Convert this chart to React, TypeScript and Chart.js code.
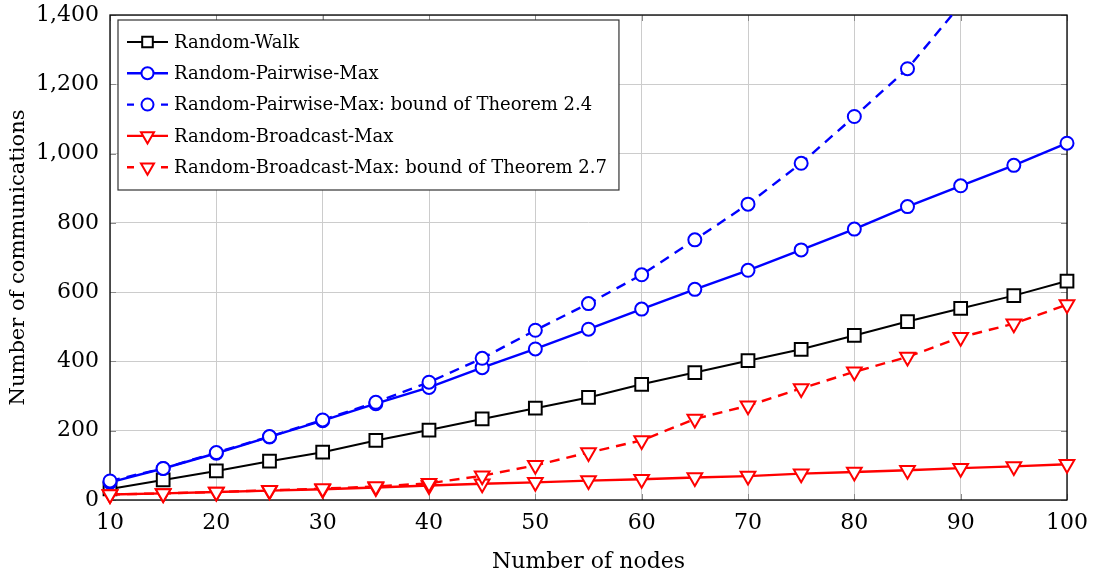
import React, { useEffect, useRef } from "react";
import { Chart, registerables } from "chart.js";
Chart.register(...registerables);

const nodes = [10, 15, 20, 25, 30, 35, 40, 45, 50, 55, 60, 65, 70, 75, 80, 85, 90, 95, 100];
const randomWalk = [32, 58, 84, 112, 138, 172, 202, 234, 265, 296, 334, 368, 402, 435, 475, 515, 553, 590, 632];
const pairwiseMax = [51, 91, 135, 182, 229, 278, 325, 382, 436, 493, 551, 608, 663, 722, 782, 847, 907, 966, 1030];
const pairwiseBound = [55, 91, 137, 183, 231, 282, 340, 409, 490, 567, 650, 751, 854, 972, 1107, 1245, 1430, 1600, 1780];
const broadcastMax = [16, 19, 23, 27, 31, 36, 42, 47, 51, 56, 60, 65, 69, 76, 81, 86, 92, 97, 103];
const broadcastBound = [16, 19, 23, 28, 33, 39, 48, 70, 100, 137, 172, 234, 272, 322, 370, 413, 470, 509, 564];

const seriesLabels = [
  "Random-Walk",
  "Random-Pairwise-Max",
  "Random-Pairwise-Max: bound of Theorem 2.4",
  "Random-Broadcast-Max",
  "Random-Broadcast-Max: bound of Theorem 2.7",
];
const yTickStep = 200;
const xTickStep = 10;

const FONT = "'DejaVu Serif', serif";
const DASH = [10, 7];

function fmt(v: number): string {
  const s = String(Math.round(v));
  return s.replace(/\B(?=(\d{3})+(?!\d))/g, ",");
}

function drawMarker(ctx: CanvasRenderingContext2D, style: string, x: number, y: number, r: number, color: string) {
  ctx.save();
  ctx.setLineDash([]);
  ctx.fillStyle = "#fff";
  ctx.strokeStyle = color;
  ctx.lineWidth = 2;
  ctx.beginPath();
  if (style === "rect") {
    const s = Math.SQRT1_2 * r;
    ctx.rect(x - s, y - s, 2 * s, 2 * s);
  } else if (style === "circle") {
    ctx.arc(x, y, r, 0, Math.PI * 2);
  } else {
    const c = Math.cos(Math.PI / 6) * r;
    ctx.moveTo(x, y + r);
    ctx.lineTo(x - c, y - r / 2);
    ctx.lineTo(x + c, y - r / 2);
    ctx.closePath();
  }
  ctx.fill();
  ctx.stroke();
  ctx.restore();
}

export default function App() {
  const ref = useRef<HTMLCanvasElement>(null);
  useEffect(() => {
    document.body.style.margin = "0";
    const canvas = ref.current!;

    const framePlugin = {
      id: "frame",
      beforeDatasetsDraw(chart: any) {
        const { ctx, chartArea: a, scales } = chart;
        ctx.save();
        ctx.strokeStyle = "#8a8a8a";
        ctx.lineWidth = 1;
        const L = 6;
        scales.x.ticks.forEach((t: any) => {
          const px = Math.round(scales.x.getPixelForValue(t.value)) + 0.5;
          ctx.beginPath();
          ctx.moveTo(px, a.bottom);
          ctx.lineTo(px, a.bottom - L);
          ctx.moveTo(px, a.top);
          ctx.lineTo(px, a.top + L);
          ctx.stroke();
        });
        scales.y.ticks.forEach((t: any) => {
          const py = Math.round(scales.y.getPixelForValue(t.value)) + 0.5;
          ctx.beginPath();
          ctx.moveTo(a.left, py);
          ctx.lineTo(a.left + L, py);
          ctx.moveTo(a.right, py);
          ctx.lineTo(a.right - L, py);
          ctx.stroke();
        });
        ctx.strokeStyle = "#000";
        ctx.lineWidth = 1.3;
        ctx.strokeRect(a.left, a.top, a.right - a.left, a.bottom - a.top);
        ctx.restore();
      },
    };

    const legendPlugin = {
      id: "boxLegend",
      afterDraw(chart: any) {
        const { ctx, chartArea: a } = chart;
        const ds = chart.data.datasets;
        ctx.save();
        ctx.font = `18px ${FONT}`;
        let maxW = 0;
        ds.forEach((d: any) => (maxW = Math.max(maxW, ctx.measureText(d.label).width)));
        const left = a.left + 8;
        const top = a.top + 5;
        const rowH = 31.3;
        const textX = left + 56;
        const right = textX + maxW + 12;
        const bottom = top + 170;
        ctx.fillStyle = "#fff";
        ctx.fillRect(left, top, right - left, bottom - top);
        ctx.strokeStyle = "#333";
        ctx.lineWidth = 1.2;
        ctx.strokeRect(left, top, right - left, bottom - top);
        ds.forEach((d: any, i: number) => {
          const y = top + 22 + i * rowH;
          const x0 = left + 9;
          const x1 = left + 50;
          const xm = (x0 + x1) / 2;
          ctx.save();
          ctx.strokeStyle = d.borderColor;
          ctx.lineWidth = d.borderWidth;
          ctx.beginPath();
          if (d.borderDash && d.borderDash.length) {
            ctx.moveTo(x0, y);
            ctx.lineTo(x0 + 7, y);
            ctx.moveTo(x1 - 7, y);
            ctx.lineTo(x1, y);
          } else {
            ctx.moveTo(x0, y);
            ctx.lineTo(x1, y);
          }
          ctx.stroke();
          ctx.restore();
          drawMarker(ctx, d.pointStyle, xm, y, d.pointStyle === "rect" ? 7.5 : d.pointStyle === "circle" ? 6 : 7.5, d.borderColor);
          ctx.fillStyle = "#000";
          ctx.textBaseline = "middle";
          ctx.textAlign = "left";
          ctx.fillText(d.label, textX, y + 1);
        });
        ctx.restore();
      },
    };

    const mk = (label: string, data: number[], color: string, style: string, dashed: boolean, radius: number, width: number, i: number, clip: any) => ({
      label,
      data: nodes.map((x, k) => ({ x, y: data[k] })),
      borderColor: color,
      backgroundColor: "#fff",
      borderWidth: width,
      borderDash: dashed ? DASH : [],
      pointStyle: style,
      pointRotation: style === "triangle" ? 180 : 0,
      pointRadius: radius,
      pointBorderWidth: 2,
      pointBackgroundColor: "#fff",
      pointBorderColor: color,
      tension: 0,
      fill: false,
      clip,
      order: 10 - i,
    });

    const chart = new Chart(canvas, {
      type: "line",
      data: {
        datasets: [
          mk(seriesLabels[0], randomWalk, "#000000", "rect", false, 9, 2, 0, false),
          mk(seriesLabels[1], pairwiseMax, "#0000ff", "circle", false, 6.5, 2.4, 1, false),
          mk(seriesLabels[2], pairwiseBound, "#0000ff", "circle", true, 6.5, 2.4, 2, { left: 20, right: 20, top: 0, bottom: 20 }),
          mk(seriesLabels[3], broadcastMax, "#ff0000", "triangle", false, 8.5, 2.4, 3, false),
          mk(seriesLabels[4], broadcastBound, "#ff0000", "triangle", true, 8.5, 2.4, 4, false),
        ] as any,
      },
      options: {
        animation: false,
        responsive: false,
        maintainAspectRatio: false,
        layout: { padding: { top: 15, right: 26, left: 0, bottom: 0 } },
        plugins: { legend: { display: false }, tooltip: { enabled: false } },
        scales: {
          x: {
            type: "linear",
            min: 10,
            max: 100,
            ticks: {
              stepSize: xTickStep,
              color: "#000",
              font: { family: FONT, size: 22 },
              padding: 10,
              maxRotation: 0,
            },
            grid: { color: "#cccccc", drawTicks: false },
            border: { display: false },
            title: {
              display: true,
              text: "Number of nodes",
              color: "#000",
              font: { family: FONT, size: 22 },
              padding: { top: 0, bottom: 0 },
            },
            afterFit: (s: any) => {
              s.height = 75;
              s.paddingLeft = 0;
              s.paddingRight = 0;
            },
          },
          y: {
            type: "linear",
            min: 0,
            max: 1400,
            ticks: {
              stepSize: yTickStep,
              color: "#000",
              font: { family: FONT, size: 22 },
              padding: 11,
              callback: (v: any) => fmt(Number(v)),
            },
            grid: { color: "#cccccc", drawTicks: false },
            border: { display: false },
            title: {
              display: true,
              text: "Number of communications",
              color: "#000",
              font: { family: FONT, size: 21 },
              padding: { top: 6, bottom: 0 },
            },
            afterFit: (s: any) => {
              s.width = 110;
              s.paddingTop = 0;
              s.paddingBottom = 0;
            },
          },
        },
      } as any,
      plugins: [framePlugin, legendPlugin],
    });
    return () => chart.destroy();
  }, []);

  return (
    <div style={{ position: "absolute", left: 0, top: 0, width: 1093, height: 575, background: "#fff" }}>
      <canvas ref={ref} width={1093} height={575} style={{ display: "block", width: 1093, height: 575 }} />
    </div>
  );
}
